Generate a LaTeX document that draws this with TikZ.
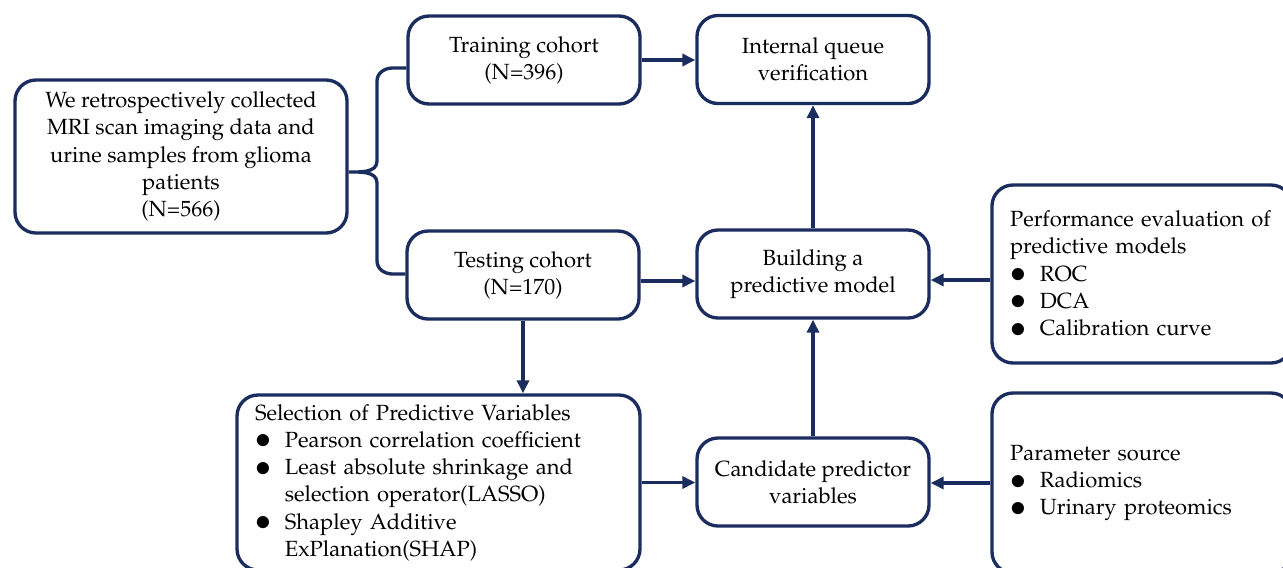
\documentclass[tikz,border=0pt]{standalone}
\usepackage[T1]{fontenc}
\renewcommand{\rmdefault}{ppl}
\usepackage{tikz}
\usetikzlibrary{arrows.meta,calc,positioning}
\definecolor{lacivert}{HTML}{1A2D5E}
\newcommand{\madde}{\makebox[17pt][l]{\raisebox{-0.15ex}{\scalebox{1.5}{$\bullet$}}}}
\newcommand{\girinti}{\hspace*{17pt}}

\begin{document}
\begin{tikzpicture}[font=\fontsize{12.5}{15.5}\selectfont,
  kutu/.style={draw=lacivert,line width=1.9pt,rounded corners=0.42cm,fill=white,
               minimum width=4.64cm,minimum height=1.76cm,align=center,inner sep=2pt},
  liste/.style={kutu,align=left,inner xsep=0.36cm,inner ysep=0pt},
  ok/.style={draw=lacivert,line width=1.9pt,-{Triangle[length=0.26cm,width=0.24cm]}}]
\useasboundingbox (0,0) rectangle (25.66,-11.34);
\node[kutu,minimum width=6.64cm,minimum height=3.06cm] (veri) at (3.62,-3.13) {We retrospectively collected\\MRI scan imaging data and\\urine samples from glioma\\patients\\(N=566)};
\node[kutu] (egitim) at (10.48,-1.20) {Training cohort\\(N=396)};
\node[kutu] (ic) at (16.26,-1.19) {Internal queue\\verification};
\node[kutu] (test) at (10.46,-5.50) {Testing cohort\\(N=170)};
\node[kutu] (model) at (16.26,-5.48) {Building a\\predictive model};
\node[kutu] (aday) at (16.26,-9.64) {Candidate predictor\\variables};
\node[liste,text width=5.28cm,minimum height=3.56cm] (perf) at (22.84,-5.48) {Performance evaluation of\\predictive models\\\madde ROC\\\madde DCA\\\madde Calibration curve};
\node[liste,text width=5.28cm,minimum height=3.6cm] (param) at (22.84,-9.66) {Parameter source\\\madde Radiomics\\\madde Urinary proteomics};
\node[liste,text width=7.34cm,minimum height=3.5cm] (secim) at (8.77,-9.65) {Selection of Predictive Variables\\\madde Pearson correlation coefficient\\\madde Least absolute shrinkage and\\\girinti selection operator(LASSO)\\\madde Shapley Additive\\\girinti ExPlanation(SHAP)};
% kume ayrimi
\draw[draw=lacivert,line width=1.9pt] (egitim.west |- 0,-1.36) -- (7.85,-1.36) to[out=180,in=90] (7.54,-1.62) -- (7.54,-3.22) to[out=-90,in=0] (veri.east |- 0,-3.44)
  to[out=0,in=90] (7.54,-3.66) -- (7.54,-5.22) to[out=-90,in=180] (7.85,-5.48) -- (test.west |- 0,-5.48);
% oklar
\draw[ok] (egitim.east) -- (egitim.east -| ic.west);
\draw[ok] ([yshift=-0.12cm]test.east) -- ([yshift=-0.12cm]test.east -| model.west);
\draw[ok] ([yshift=-0.12cm]perf.west) -- ([yshift=-0.12cm]perf.west -| model.east);
\draw[ok] (model.north) -- (ic.south);
\draw[ok] (aday.north) -- (model.south);
\draw[ok] (test.south) -- (test.south |- secim.north);
\draw[ok] (secim.east) -- (secim.east -| aday.west);
\draw[ok] (param.west) -- (param.west -| aday.east);
\end{tikzpicture}
\end{document}
